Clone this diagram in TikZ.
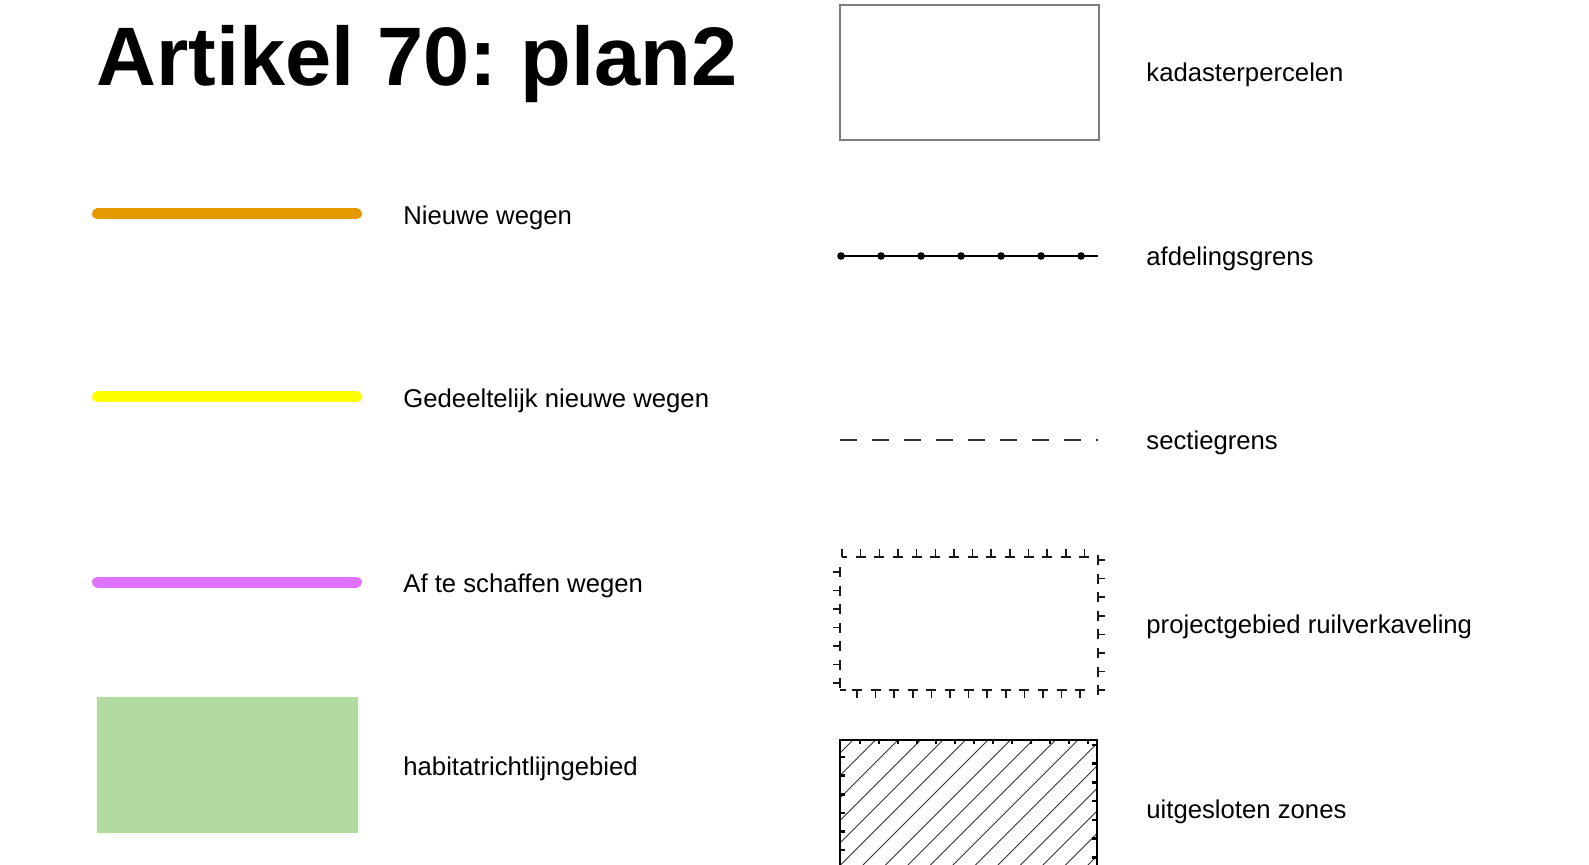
\documentclass[tikz,border=0pt]{standalone}
\usepackage{fontspec}
\setmainfont{Liberation Sans}
\usepackage{tikz}
\frenchspacing

\definecolor{wegoranje}{RGB}{230,152,0}
\definecolor{weggeel}{RGB}{255,255,0}
\definecolor{wegpaars}{RGB}{223,115,255}
\definecolor{habgroen}{RGB}{178,219,161}
\definecolor{kadgrijs}{RGB}{125,125,125}

\tikzset{
  lbl/.style={anchor=base west, inner sep=0pt, font=\fontsize{12.85}{15}\selectfont},
  weg/.style={line width=5.5pt, line cap=round},
  rand/.style={line width=0.75pt, black!90},
}

\begin{document}
\begin{tikzpicture}[x=0.5pt,y=-0.5pt]
        \useasboundingbox (0,0) rectangle (1589,865);
        % Titel
        \node[anchor=base west, inner sep=0pt, font=\bfseries\fontsize{41.5}{45}\selectfont] (titel) at (96,86) {Artikel 70: plan2};

        % Wegen en habitat
        \draw[weg, wegoranje] (97.5,214) -- (356.5,214);
        \node[lbl] (nieuw) at (403,225) {Nieuwe wegen};
        \draw[weg, weggeel] (97.5,397) -- (356.5,397);
        \node[lbl] (gedeelt) at (403,408) {Gedeeltelijk nieuwe wegen};
        \draw[weg, wegpaars] (97.5,582) -- (356.5,582);
        \node[lbl] (afschaf) at (403,592) {Af te schaffen wegen};
        \fill[habgroen] (97,697) rectangle (358,833);
        \node[lbl] (habitat) at (403,775) {habitatrichtlijngebied};

        % Kadaster
        \draw[kadgrijs, line width=0.75pt] (840,5) rectangle (1099,140);
        \node[lbl] (kadaster) at (1146,82) {kadasterpercelen};

        % Afdelingsgrens
        \draw[line width=0.7pt] (841,256) -- (1098,256);
        \foreach \i in {0,...,6}
            \fill ({841+40*\i},256) circle (3.8);
        \node[lbl] (afdeling) at (1146,266) {afdelingsgrens};

        % Sectiegrens
        \draw[line width=1pt, black!80, dash pattern=on 8.5pt off 7.5pt] (840,440) -- (1098,440);
        \node[lbl] (sectie) at (1146,450) {sectiegrens};

        % Projectgebied
        \foreach \i in {0,...,13}
            \draw[rand] ({max(842,842+18.65*\i-5)},557) -- ({842+18.65*\i+5},557)
                        ({842+18.65*\i},557) -- ++(0,-8);
        \foreach \i in {0,...,12}
            \draw[rand] ({857+18.6*\i-5},690) -- ++(10,0) ++(-5,0) -- ++(0,8);
        \foreach \i in {0,...,6}
            \draw[rand] (840,{572+18.5*\i-5}) -- ++(0,10) ++(0,-5) -- ++(-7,0);
        \foreach \i in {0,...,7}
            \draw[rand] (1098,{560+18.6*\i-5}) -- ++(0,10) ++(0,-5) -- ++(7,0);
        \draw[rand] (840,690) -- ++(6,0);
        \node[lbl] (project) at (1146,633) {projectgebied ruilverkaveling};

        % Uitgesloten zones
        \begin{scope}
            \clip (840,740) rectangle (1097,880);
            \foreach \i in {-1,...,18}
                \draw[line width=0.5pt, black!80] ({1593+22.5*\i-900},900) -- ++(200,-200);
        \end{scope}
        \draw[line width=1pt] (840,880) -- (840,740) -- (1097,740) -- (1097,880);
        \foreach \i in {0,...,12}
            \draw[line width=1.3pt] ({860+19*\i},740) -- ++(0,4);
        \foreach \i in {0,...,5}
            \draw[line width=1.3pt] (840,{757+18.6*\i}) -- ++(5,0);
        \foreach \i in {0,...,6}
            \draw[line width=1.3pt] (1097,{745+18.7*\i}) -- ++(-5,0);
        \node[lbl] (uitgesl) at (1146,818) {uitgesloten zones};
\end{tikzpicture}
\end{document}
